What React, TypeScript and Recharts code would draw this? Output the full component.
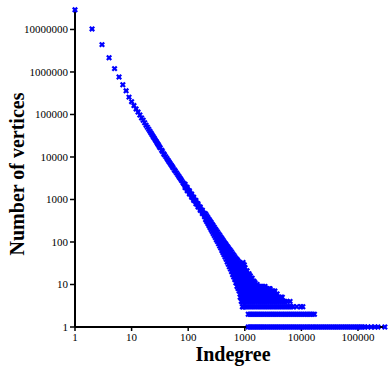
import React from 'react';
import { ScatterChart, Scatter, XAxis, YAxis } from 'recharts';

// head of the distribution: one marker per indegree
const headPoints: [number, number][] = [
  [1, 29000000], [2, 10300000], [3, 4400000], [4, 2160000], [5, 1200000],
  [6, 760000], [7, 500000], [8, 360000], [9, 256000], [10, 200000],
  [11, 162000], [12, 135000], [13, 114000], [14, 97000], [15, 83000], [16, 73000],
  [17, 64000], [18, 56000], [19, 50000],
];

// main diagonal band (indegree, number of vertices)
const bandCenter: [number, number][] = [
  [20, 45000], [21, 40500], [22, 36600], [23, 33300], [24, 30400], [25, 27900],
  [26, 25600], [27, 23600], [28, 21800], [29, 20200], [30, 18800], [31, 17500],
  [32, 16400], [34, 14400], [35, 13500], [37, 11900], [38, 11300], [40, 10200],
  [42, 9240], [44, 8410], [46, 7700], [48, 7080], [50, 6520], [52, 6030],
  [54, 5590], [57, 5020], [59, 4680], [62, 4240], [65, 3860], [68, 3520],
  [71, 3230], [74, 2980], [77, 2750], [81, 2480], [84, 2310], [88, 2100],
  [92, 1920], [96, 1770], [100, 1630], [105, 1480], [110, 1350], [115, 1230],
  [120, 1130], [125, 1040], [131, 950], [137, 868], [143, 797], [149, 734],
  [156, 670], [163, 613], [170, 564], [178, 514], [186, 471], [194, 433],
  [203, 395], [212, 360], [222, 325], [232, 294], [242, 268], [253, 244],
  [264, 222], [276, 201], [289, 182], [302, 165], [315, 150], [329, 137],
  [344, 124], [360, 112], [376, 102], [393, 92], [410, 84], [429, 76],
  [448, 69], [468, 63], [489, 57], [511, 52], [534, 47], [558, 43],
  [583, 39], [609, 35], [637, 32], [665, 29], [695, 26], [727, 24],
  [759, 22], [793, 20], [829, 18], [867, 16], [906, 15], [946, 13],
];

const bandUpper: [number, number][] = [
  [88, 2290], [96, 1930], [105, 1610], [115, 1340], [125, 1130], [137, 945],
  [149, 800], [163, 668], [178, 560], [194, 472],
  [203, 455], [212, 417], [222, 379], [232, 345], [242, 317], [253, 291],
  [264, 267], [276, 244], [289, 222], [302, 203], [315, 187], [329, 172],
  [344, 157], [360, 144], [376, 132], [393, 121], [410, 112], [429, 102],
  [448, 94], [468, 87], [489, 80], [511, 74], [534, 68], [558, 63],
  [583, 58], [609, 53], [637, 49], [665, 45], [695, 41], [727, 39],
  [759, 36], [793, 33], [829, 31], [867, 28], [906, 27], [946, 24],
];

const bandUpperMid: [number, number][] = [
  [410, 98], [429, 89], [448, 81], [468, 75], [489, 68], [511, 63],
  [534, 57], [558, 53], [583, 48], [609, 44], [637, 40], [665, 37],
  [695, 34], [727, 31], [759, 29], [793, 27], [829, 24], [867, 22],
  [906, 21], [946, 18],
];

const bandLowerMid: [number, number][] = [
  [410, 70], [429, 63], [448, 57], [468, 51], [489, 46], [511, 41],
  [534, 37], [558, 33], [583, 30], [609, 26], [637, 24], [665, 21],
  [695, 18], [727, 17], [759, 15], [793, 13], [829, 12], [867, 10],
  [906, 9], [946, 8],
];

const bandLower: [number, number][] = [
  [88, 1910], [96, 1610], [105, 1350], [115, 1120], [125, 950], [137, 790],
  [149, 668], [163, 558], [178, 468], [194, 394],
  [203, 335], [212, 303], [222, 271], [232, 243], [242, 219], [253, 197],
  [264, 177], [276, 158], [289, 142], [302, 127], [315, 113], [329, 102],
  [344, 91], [360, 80], [376, 72], [393, 63], [410, 56], [429, 50],
  [448, 44], [468, 39], [489, 34], [511, 30], [534, 26], [558, 23],
  [583, 20], [609, 17], [637, 15], [665, 13], [695, 11], [727, 9],
  [759, 8], [793, 7], [829, 5], [867, 4], [906, 3], [946, 3],
];

const bandLowTail: [number, number][] = [
  [695, 15], [727, 13], [759, 11], [793, 10], [829, 9], [829, 7], [829, 6],
  [867, 7], [867, 5], [906, 6], [906, 4], [946, 5], [946, 4],
];

// tail: indegrees seen at small vertex counts
const tailCount1 = [
  1150, 1240, 1350, 1460, 1590, 1720, 1870, 2030, 2200, 2400, 2600, 2820, 3060,
  3320, 3600, 3910, 4250, 4600, 5000, 5420, 5880, 6380, 6930, 7510, 8150, 8850,
  9600, 10400, 11300, 12300, 13300, 14400, 15700, 17000, 18400, 20000, 21700,
  23500, 25500, 27700, 30100, 32600, 35400, 38400, 41700, 45200, 49100, 53200,
  57800, 62700, 68000, 73800, 80000, 86800, 94200, 102000, 111000, 120000,
  131000, 150000, 170000, 200000, 225000, 298000,
];
const tailCount2 = [
  1150, 1240, 1350, 1460, 1590, 1720, 1870, 2030, 2200, 2400, 2600, 2820, 3060,
  3320, 3600, 3910, 4250, 4600, 5000, 5420, 5880, 6380, 6930, 7510, 8150, 8850,
  9600, 10400, 11300, 12300, 13300, 14400, 15700, 17000,
];
const tailCount3 = [
  930, 1010, 1095, 1190, 1290, 1400, 1520, 1650, 1790, 1940, 2100, 2280, 2475,
  2690, 2915, 3160, 3430, 3720, 4040, 4380, 4750, 5150, 5590, 6070, 6580, 7140,
  8300, 9800, 10600,
];
const tailCount4 = [
  930, 1010, 1095, 1190, 1290, 1400, 1520, 1650, 1790, 1940, 2100, 2280, 2475,
  2690, 2915, 3160, 3430, 3720, 4040, 4380, 4750, 5150, 5590, 6300,
];
const tailCount5 = [
  930, 1010, 1095, 1190, 1290, 1400, 1520, 1650, 1790, 1940, 2100, 2280, 2475,
  2690, 2915, 3160, 3430, 3720, 4040, 4380, 4600,
];
const tailCount6 = [
  930, 1010, 1095, 1190, 1290, 1400, 1520, 1650, 1790, 1940, 2100, 2280, 2475,
  2690, 2915, 3160, 3430, 3720,
];
const tailCount7 = [
  930, 1010, 1095, 1190, 1290, 1400, 1520, 1650, 1790, 1940, 2100, 2280, 2475,
  2690, 2915, 3160, 3400,
];
const tailCount8 = [
  930, 1010, 1095, 1190, 1290, 1400, 1520, 1650, 1790, 1940, 2100, 2280, 2475,
  2690, 2800,
];
const tailCount9 = [
  930, 1010, 1095, 1190, 1290, 1400, 1520, 1650, 1790, 1940, 2100, 2280,
];
const tailCount10 = [930, 1010, 1095, 1190, 1290, 1400, 1520, 1650];

const tailCloud: [number, number][] = [
  [930, 11], [1010, 11], [1095, 11], [1190, 11], [1290, 11], [1400, 11], [1520, 11],
  [930, 12], [1010, 12], [1095, 12], [1190, 12], [1290, 12], [1400, 12], [1450, 12],
  [930, 14], [1010, 14], [1095, 14], [1190, 14], [1290, 14], [1350, 14],
  [930, 16], [1010, 16], [1095, 16], [1190, 16], [1250, 16],
  [930, 18], [1010, 18], [1095, 18], [1190, 18],
  [930, 21], [1010, 21], [1095, 21],
  [930, 25], [1010, 25],
  [930, 29], [980, 29],
  [930, 33],
];

const xTicks = [1, 10, 100, 1000, 10000, 100000];
const yTicks = [1, 10, 100, 1000, 10000, 100000, 1000000, 10000000];

const tailRows: [number, number[]][] = [
  [1, tailCount1], [2, tailCount2], [3, tailCount3], [4, tailCount4], [5, tailCount5],
  [6, tailCount6], [7, tailCount7], [8, tailCount8], [9, tailCount9], [10, tailCount10],
];

const points = [
  ...headPoints, ...bandCenter, ...bandUpper, ...bandUpperMid, ...bandLowerMid,
  ...bandLower, ...bandLowTail, ...tailCloud,
  ...tailRows.flatMap(([count, degrees]) => degrees.map((d) => [d, count] as [number, number])),
].map(([x, y]) => ({ x, y }));

const BLUE = '#0000ff';
const SERIF = '"Liberation Serif", "Times New Roman", serif';

// "x" marker like the original plot
const Cross = (props: any) => {
  const { cx, cy } = props;
  if (cx == null || cy == null) return null;
  const r = 2.2;
  return (
    <g stroke={BLUE} strokeWidth={2.2}>
      <line x1={cx - r} y1={cy - r} x2={cx + r} y2={cy + r} />
      <line x1={cx - r} y1={cy + r} x2={cx + r} y2={cy - r} />
    </g>
  );
};

const XTick = (props: any) => (
  <text x={props.x} y={props.y} dy="0.71em" textAnchor="middle" fontFamily={SERIF} fontSize={11} fill="#000">
    {props.payload.value}
  </text>
);

const YTick = (props: any) => (
  <text x={props.x} y={props.y} dy="0.355em" textAnchor="end" fontFamily={SERIF} fontSize={11} fill="#000">
    {props.payload.value}
  </text>
);

export default function App() {
  return (
    <div style={{ position: 'absolute', left: 0, top: 0, width: 388, height: 371, background: '#fff' }}>
      <ScatterChart width={388} height={371} margin={{ top: 8, right: 3, bottom: 0, left: 0 }}>
        <XAxis
          type="number"
          dataKey="x"
          scale="log"
          domain={[1, 300000]}
          ticks={xTicks}
          height={44}
          tick={<XTick />}
          tickSize={4}
          tickMargin={2}
          stroke="#000"
          axisLine={{ stroke: '#000', strokeWidth: 2 }}
          tickLine={{ stroke: '#000', strokeWidth: 1.5 }}
          interval={0}
        />
        <YAxis
          type="number"
          dataKey="y"
          scale="log"
          domain={[1, 32000000]}
          ticks={yTicks}
          width={75}
          tick={<YTick />}
          tickSize={5}
          tickMargin={2}
          stroke="#000"
          axisLine={{ stroke: '#000', strokeWidth: 2 }}
          tickLine={{ stroke: '#000', strokeWidth: 1.5 }}
          interval={0}
        />
        <Scatter data={points} shape={<Cross />} isAnimationActive={false} />
        <text x={233} y={361} textAnchor="middle" fontFamily={SERIF} fontWeight="bold" fontSize={20} fill="#000">
          Indegree
        </text>
        <text
          transform="translate(24, 174) rotate(-90)"
          textAnchor="middle"
          fontFamily={SERIF}
          fontWeight="bold"
          fontSize={20}
          fill="#000"
        >
          Number of vertices
        </text>
      </ScatterChart>
    </div>
  );
}
